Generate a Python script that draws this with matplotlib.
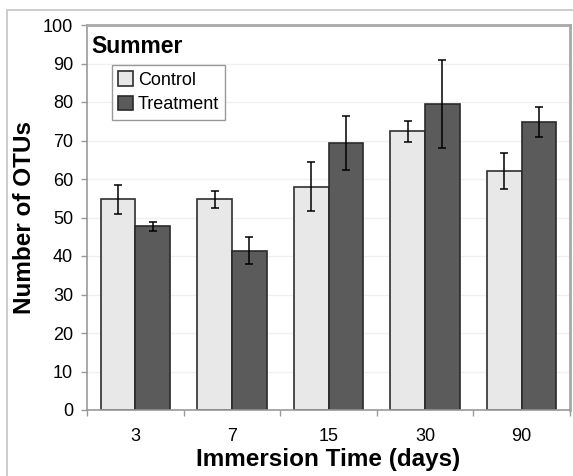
import numpy as np
import matplotlib
matplotlib.use("Agg")
import matplotlib.pyplot as plt
from matplotlib.patches import Rectangle

plt.rcParams['font.family'] = ['Liberation Sans', 'DejaVu Sans']

# OTU counts per immersion time
days = ["3", "7", "15", "30", "90"]
control = [54.7, 54.7, 58.0, 72.4, 62.0]
control_err = [3.7, 2.3, 6.4, 2.7, 4.7]
treatment = [47.7, 41.4, 69.3, 79.5, 74.7]
treatment_err = [1.2, 3.5, 7.0, 11.5, 3.9]

fig = plt.figure(figsize=(5.73, 4.76), dpi=100)
ax = fig.add_axes([87 / 573, 66 / 476, 483 / 573, 385 / 476])

# outer chart frame
fig.patches.append(Rectangle((7 / 573, -0.05), 1.1, 1.05 - 10 / 476,
                             transform=fig.transFigure, fill=False,
                             edgecolor="#c4c4c4", linewidth=1.2))

x = np.arange(len(days))
w = 0.36
ax.bar(x - w / 2, control, w, color="#e8e8e8", edgecolor="#2e2e2e",
       linewidth=1.2, label="Control", zorder=2)
ax.bar(x + w / 2, treatment, w, color="#5b5b5b", edgecolor="#2a2a2a",
       linewidth=1.2, label="Treatment", zorder=2)
ax.errorbar(x - w / 2, control, yerr=control_err, fmt="none", ecolor="black",
            elinewidth=1.1, capsize=2.8, capthick=1.1, zorder=3)
ax.errorbar(x + w / 2, treatment, yerr=treatment_err, fmt="none", ecolor="black",
            elinewidth=1.1, capsize=2.8, capthick=1.1, zorder=3)

ax.set_xlim(-0.5, len(days) - 0.5)
ax.set_ylim(0, 100)
ax.set_yticks(range(0, 101, 10))
ax.set_xticks(x)
ax.set_xticklabels(days)
ax.set_xticks(np.arange(-0.5, len(days)), minor=True)
ax.tick_params(axis="x", which="major", length=0, pad=13, labelsize=13)
ax.tick_params(axis="x", which="minor", length=4, width=1, color="#999999",
               direction="out")
ax.tick_params(axis="y", length=4.5, width=1, color="#999999", pad=5.5,
               labelsize=13)
ax.yaxis.grid(True, color="#f0f0f0", linewidth=1, zorder=0)
ax.set_axisbelow(True)

for side in ["left", "bottom"]:
    ax.spines[side].set_color("#999999")
    ax.spines[side].set_linewidth(1.2)
for side in ["top", "right"]:
    ax.spines[side].set_color("#a8a8a8")
    ax.spines[side].set_linewidth(2)

ax.set_xlabel("Immersion Time (days)", fontsize=17.5, fontweight="bold", labelpad=2)
ax.set_ylabel("Number of OTUs", fontsize=17.5, fontweight="bold", labelpad=5)

ax.text(0.008, 0.927, "Summer", transform=ax.transAxes, fontsize=16.5,
        fontweight="bold", ha="left", va="baseline")

leg = ax.legend(loc="upper left", bbox_to_anchor=(0.051, 0.896), fontsize=13,
                frameon=True, fancybox=False, framealpha=1, edgecolor="#999999",
                handlelength=0.85, handleheight=0.85, handletextpad=0.25,
                borderpad=0.35, labelspacing=0.4, borderaxespad=0)
leg.get_frame().set_linewidth(1)

fig.savefig("out.png", dpi=100)
